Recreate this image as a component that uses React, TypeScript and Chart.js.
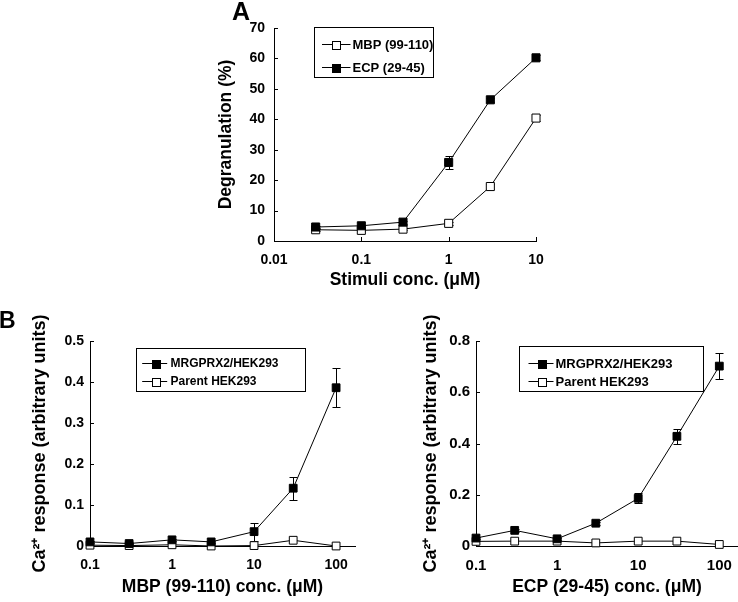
import React, { useEffect, useRef } from 'react';
import { Chart, registerables } from 'chart.js';

Chart.register(...registerables);

const FONT = "'Liberation Sans', Arial, Helvetica, sans-serif";
const TITLE_SIZE = 17.5;

// ---------------- Panel A: degranulation ----------------
const concA = [0.03, 0.1, 0.3, 1, 3, 10];
const mbpDegranulation = [3.7, 3.5, 3.9, 5.8, 17.9, 40.4];
const mbpDegranulationErr = [0.3, 0.3, 0.3, 0.6, 0.8, 0.9];
const ecpDegranulation = [4.6, 5.0, 6.2, 25.8, 46.4, 60.2];
const ecpDegranulationErr = [0.4, 0.4, 0.5, 2.0, 0.7, 0.8];
const xTicksA = [0.01, 0.1, 1, 10];
const yTicksA = [0, 10, 20, 30, 40, 50, 60, 70];

// ---------------- Panel B: Ca2+ response ----------------
const concB = [0.1, 0.3, 1, 3, 10, 30, 100];
const mbpMrgprx2 = [0.01, 0.006, 0.015, 0.01, 0.035, 0.141, 0.386];
const mbpMrgprx2Err = [0.002, 0.002, 0.002, 0.002, 0.022, 0.028, 0.048];
const mbpParent = [0.002, 0.001, 0.003, 0.0, 0.001, 0.014, 0.0];
const ecpMrgprx2 = [0.031, 0.061, 0.028, 0.089, 0.186, 0.428, 0.702];
const ecpMrgprx2Err = [0.004, 0.005, 0.004, 0.006, 0.02, 0.03, 0.05];
const ecpParent = [0.018, 0.019, 0.019, 0.012, 0.019, 0.019, 0.006];
const xTicksB = [0.1, 1, 10, 100];
const yTicksB1 = [0, 0.1, 0.2, 0.3, 0.4, 0.5];
const yTicksB2 = [0, 0.2, 0.4, 0.6, 0.8];

const pts = (xs: number[], ys: number[]) => xs.map((x, i) => ({ x, y: ys[i] }));

// ---------------- plugins ----------------
const errorBarPlugin = {
  id: 'errorBars',
  beforeDatasetsDraw(chart: any) {
    const { ctx } = chart;
    const xs = chart.scales.x;
    const ys = chart.scales.y;
    ctx.save();
    ctx.strokeStyle = '#000';
    ctx.lineWidth = 1;
    chart.data.datasets.forEach((ds: any) => {
      if (!ds.errors) return;
      ds.data.forEach((p: any, i: number) => {
        const e = ds.errors[i];
        if (!e) return;
        const x = Math.round(xs.getPixelForValue(p.x)) + 0.5;
        const yT = Math.round(ys.getPixelForValue(p.y + e)) + 0.5;
        const yB = Math.round(ys.getPixelForValue(p.y - e)) + 0.5;
        ctx.beginPath();
        ctx.moveTo(x, yT);
        ctx.lineTo(x, yB);
        ctx.moveTo(x - 4, yT);
        ctx.lineTo(x + 4, yT);
        ctx.moveTo(x - 4, yB);
        ctx.lineTo(x + 4, yB);
        ctx.stroke();
      });
    });
    ctx.restore();
  },
};

const innerTicksPlugin = {
  id: 'innerTicks',
  afterDraw(chart: any, _args: any, opts: any) {
    const { ctx, chartArea } = chart;
    const len = opts.len || 4;
    ctx.save();
    ctx.strokeStyle = '#000';
    ctx.lineWidth = 1;
    ctx.beginPath();
    (opts.x || []).forEach((v: number) => {
      const px = Math.round(chart.scales.x.getPixelForValue(v)) + 0.5;
      ctx.moveTo(px, chartArea.bottom);
      ctx.lineTo(px, chartArea.bottom - len);
    });
    (opts.y || []).forEach((v: number) => {
      const py = Math.round(chart.scales.y.getPixelForValue(v)) + 0.5;
      ctx.moveTo(chartArea.left, py);
      ctx.lineTo(chartArea.left + len, py);
    });
    ctx.stroke();
    ctx.restore();
  },
};

const boxLegendPlugin = {
  id: 'boxLegend',
  afterDatasetsDraw(chart: any, _args: any, o: any) {
    if (!o || !o.items) return;
    const { ctx, chartArea } = chart;
    const bx = Math.round(chartArea.left + o.x) + 0.5;
    const by = Math.round(chartArea.top + o.y) + 0.5;
    ctx.save();
    ctx.fillStyle = '#fff';
    ctx.fillRect(bx, by, o.w, o.h);
    ctx.strokeStyle = '#000';
    ctx.lineWidth = 1;
    ctx.strokeRect(bx, by, o.w, o.h);
    o.items.forEach((it: any, k: number) => {
      const ds = chart.data.datasets[it.ds];
      const y = Math.round(by + o.rows[k]) + 0.5;
      ctx.beginPath();
      ctx.moveTo(bx + o.lineFrom, y);
      ctx.lineTo(bx + o.lineTo, y);
      ctx.strokeStyle = '#000';
      ctx.stroke();
      const s = o.marker;
      const mx = Math.round(bx + o.markerX - s / 2) + 0.5;
      const my = Math.round(y - s / 2) + 0.5;
      ctx.fillStyle = ds.pointBackgroundColor;
      ctx.fillRect(mx, my, s, s);
      ctx.strokeRect(mx, my, s, s);
      ctx.fillStyle = '#000';
      ctx.font = `bold ${o.fontSize}px ${FONT}`;
      ctx.textBaseline = 'middle';
      ctx.textAlign = 'left';
      ctx.fillText(it.label, bx + o.textX, y + 0.5);
    });
    ctx.restore();
  },
};

// ---------------- config helpers ----------------
function series(label: string, xs: number[], ys: number[], errs: number[] | null, filled: boolean, radius: number) {
  return {
    label,
    data: pts(xs, ys),
    errors: errs,
    borderColor: '#000',
    borderWidth: 1,
    pointStyle: 'rect',
    pointRadius: radius,
    pointBorderWidth: 1,
    pointBorderColor: '#000',
    pointBackgroundColor: filled ? '#000' : '#fff',
    fill: false,
    tension: 0,
    clip: false,
  };
}

function xAxis(o: any) {
  return {
    type: 'logarithmic',
    min: o.min,
    max: o.max,
    grid: { display: false, drawTicks: false },
    border: { display: true, color: '#000', width: 1 },
    afterBuildTicks: (s: any) => {
      s.ticks = o.ticks.map((v: number) => ({ value: v }));
    },
    afterFit: (s: any) => {
      s.height = o.height;
    },
    ticks: {
      autoSkip: false,
      maxRotation: 0,
      minRotation: 0,
      padding: o.tickPad,
      color: '#000',
      font: { family: FONT, size: o.tickSize, weight: 'bold' },
      callback: (v: any) => String(v),
    },
    title: {
      display: true,
      text: o.title,
      color: '#000',
      font: { family: FONT, size: TITLE_SIZE, weight: 'bold' },
      padding: { top: 0, bottom: o.titlePad },
    },
  };
}

function yAxis(o: any) {
  return {
    type: 'linear',
    min: o.min,
    max: o.max,
    grid: { display: false, drawTicks: false },
    border: { display: true, color: '#000', width: 1 },
    afterBuildTicks: (s: any) => {
      s.ticks = o.ticks.map((v: number) => ({ value: v }));
    },
    afterFit: (s: any) => {
      s.width = o.width;
    },
    ticks: {
      autoSkip: false,
      padding: o.tickPad,
      color: '#000',
      font: { family: FONT, size: o.tickSize, weight: 'bold' },
      callback: (v: any) => String(v),
    },
    title: {
      display: true,
      text: o.title,
      color: '#000',
      font: { family: FONT, size: o.titleSize || TITLE_SIZE, weight: 'bold' },
      padding: { top: o.titlePad, bottom: 0 },
    },
  };
}

function baseOptions(padding: any, x: any, y: any, legend: any, innerTicks: any) {
  return {
    responsive: false,
    maintainAspectRatio: false,
    animation: false,
    devicePixelRatio: 1,
    events: [],
    layout: { padding },
    scales: { x, y },
    plugins: {
      legend: { display: false },
      tooltip: { enabled: false },
      boxLegend: legend,
      innerTicks,
    },
  };
}

function buildA() {
  return {
    type: 'line',
    data: {
      datasets: [
        series('ECP (29-45)', concA, ecpDegranulation, ecpDegranulationErr, true, 5.7),
        series('MBP (99-110)', concA, mbpDegranulation, mbpDegranulationErr, false, 5.7),
      ],
    },
    options: baseOptions(
      { left: 0, top: 28, right: 24, bottom: 0 },
      xAxis({ min: 0.01, max: 10, ticks: xTicksA, height: 59, tickPad: 11, tickSize: 14, title: 'Stimuli conc. (μM)', titlePad: 9 }),
      yAxis({ min: 0, max: 70, ticks: yTicksA, width: 94, tickPad: 9, tickSize: 14, title: 'Degranulation (%)', titlePad: 36 }),
      {
        x: 40, y: -1, w: 119, h: 50, rows: [16, 39], lineFrom: 7.5, lineTo: 36, markerX: 21, textX: 38, marker: 8, fontSize: 13,
        items: [
          { label: 'MBP (99-110)', ds: 1 },
          { label: 'ECP (29-45)', ds: 0 },
        ],
      },
      { x: xTicksA.slice(1), y: yTicksA.slice(1), len: 4 }
    ),
    plugins: [errorBarPlugin, innerTicksPlugin, boxLegendPlugin],
  };
}

function buildB(o: any) {
  return {
    type: 'line',
    data: {
      datasets: [
        series('MRGPRX2/HEK293', concB, o.mrg, o.mrgErr, true, 5.5),
        series('Parent HEK293', concB, o.parent, null, false, 5.5),
      ],
    },
    options: baseOptions(
      o.padding,
      xAxis({ min: 0.1, max: 170, ticks: xTicksB, height: 56, tickPad: 11, tickSize: o.tickSize, title: o.xTitle, titlePad: 4 }),
      yAxis({ min: 0, max: o.yMax, ticks: o.yTicks, width: o.yWidth, tickPad: 6, tickSize: o.tickSize, title: 'Ca²⁺ response (arbitrary units)', titlePad: o.yTitlePad, titleSize: 18 }),
      {
        ...o.legend,
        items: [
          { label: 'MRGPRX2/HEK293', ds: 0 },
          { label: 'Parent HEK293', ds: 1 },
        ],
      },
      { x: [], y: o.yTicks.slice(1), len: 4 }
    ),
    plugins: [errorBarPlugin, innerTicksPlugin, boxLegendPlugin],
  };
}

function PanelChart({ left, top, width, height, build }: any) {
  const ref = useRef<HTMLCanvasElement>(null);
  useEffect(() => {
    const chart = new Chart(ref.current as HTMLCanvasElement, build() as any);
    return () => chart.destroy();
  }, []);
  return (
    <div style={{ position: 'absolute', left, top, width, height }}>
      <canvas ref={ref} width={width} height={height} style={{ width, height, display: 'block' }} />
    </div>
  );
}

export default function App() {
  return (
    <div
      style={{
        position: 'absolute',
        left: 0,
        top: 0,
        width: 738,
        height: 602,
        overflow: 'hidden',
        background: '#fff',
        fontFamily: FONT,
      }}
    >
      <PanelChart left={180} top={0} width={380} height={300} build={buildA} />
      <PanelChart
        left={0}
        top={300}
        width={370}
        height={302}
        build={() =>
          buildB({
            mrg: mbpMrgprx2,
            mrgErr: mbpMrgprx2Err,
            parent: mbpParent,
            yMax: 0.5,
            yTicks: yTicksB1,
            yWidth: 90,
            yTitlePad: 29,
            tickSize: 14,
            xTitle: 'MBP (99-110) conc. (μM)',
            padding: { left: 0, top: 41, right: 15, bottom: 0 },
            legend: { x: 46, y: 7, w: 169, h: 43, rows: [14, 32.5], lineFrom: 5.7, lineTo: 30.7, markerX: 19, textX: 34, marker: 8, fontSize: 12 },
          })
        }
      />
      <PanelChart
        left={370}
        top={300}
        width={388}
        height={302}
        build={() =>
          buildB({
            mrg: ecpMrgprx2,
            mrgErr: ecpMrgprx2Err,
            parent: ecpParent,
            yMax: 0.8,
            yTicks: yTicksB2,
            yWidth: 106,
            yTitlePad: 50,
            tickSize: 15,
            xTitle: 'ECP (29-45) conc. (μM)',
            padding: { left: 0, top: 41, right: 20, bottom: 0 },
            legend: { x: 43, y: 5, w: 184, h: 45, rows: [16, 34.5], lineFrom: 9, lineTo: 34, markerX: 22, textX: 36, marker: 8, fontSize: 13 },
          })
        }
      />
      <div style={{ position: 'absolute', left: 232, top: -1, fontSize: 25, lineHeight: '25px', fontWeight: 'bold', color: '#000' }}>A</div>
      <div style={{ position: 'absolute', left: -1, top: 309, fontSize: 23, lineHeight: '23px', fontWeight: 'bold', color: '#000' }}>B</div>
    </div>
  );
}
